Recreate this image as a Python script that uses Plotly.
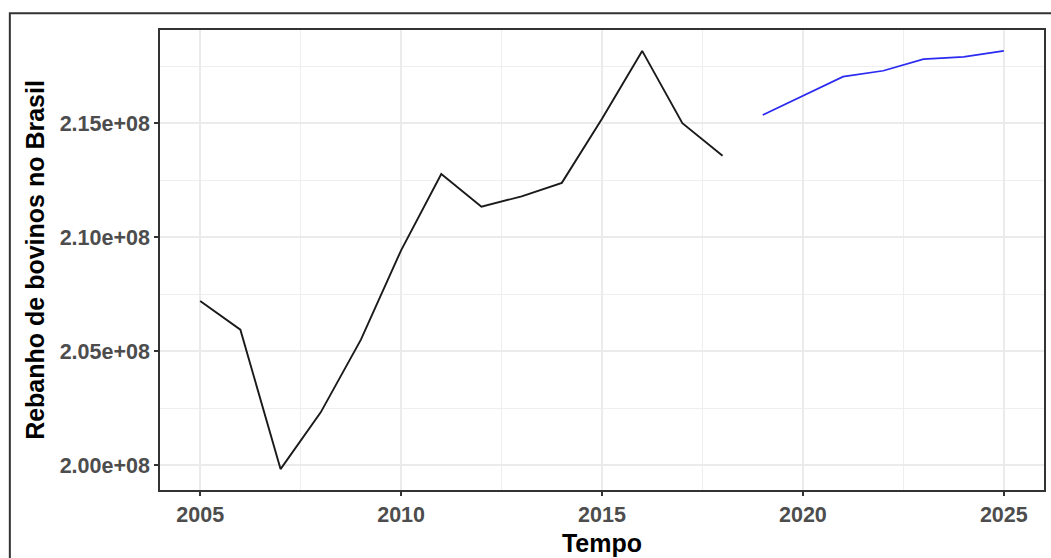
import plotly.graph_objects as go

# Rebanho bovino observado (2005-2018) e projeção (2019-2025)
anos_obs = [2005, 2006, 2007, 2008, 2009, 2010, 2011, 2012, 2013, 2014, 2015, 2016, 2017, 2018]
rebanho_obs = [207.21e6, 205.95e6, 199.83e6, 202.32e6, 205.51e6, 209.43e6, 212.78e6,
               211.34e6, 211.80e6, 212.39e6, 215.20e6, 218.18e6, 215.01e6, 213.58e6]

anos_prev = [2019, 2020, 2021, 2022, 2023, 2024, 2025]
rebanho_prev = [215.37e6, 216.21e6, 217.05e6, 217.31e6, 217.82e6, 217.92e6, 218.18e6]

x_ticks = [2005, 2010, 2015, 2020, 2025]
y_ticks = [2.00e8, 2.05e8, 2.10e8, 2.15e8]
y_tick_labels = ["2.00e+08", "2.05e+08", "2.10e+08", "2.15e+08"]

# faixa do eixo com 5% de expansão, como no ggplot
todos = rebanho_obs + rebanho_prev
ymin, ymax = min(todos), max(todos)
pad = 0.05 * (ymax - ymin)
anos = anos_obs + anos_prev
xpad = 0.05 * (max(anos) - min(anos))

W, H = 1051, 558
L, R, T, B = 160, 5, 30, 66
pw, ph = W - L - R, H - T - B

fig = go.Figure()
fig.add_trace(go.Scatter(x=anos_obs, y=rebanho_obs, mode="lines",
                         line=dict(color="#1a1a1a", width=1.9), showlegend=False))
fig.add_trace(go.Scatter(x=anos_prev, y=rebanho_prev, mode="lines",
                         line=dict(color="#2a2af0", width=1.7), showlegend=False))

tick_font = dict(family="Liberation Sans, Arial, sans-serif", size=21.5, color="#4D4D4D")
title_font = dict(family="Liberation Sans, Arial, sans-serif", size=25, color="black")

axis_common = dict(
    showgrid=True, gridcolor="#EBEBEB", gridwidth=1.6,
    showline=True, linecolor="#333333", linewidth=1.5, mirror=True,
    ticks="outside", ticklen=4, tickwidth=1.5, tickcolor="#333333",
    tickfont=tick_font, zeroline=False,
)

fig.update_xaxes(
    **axis_common,
    range=[min(anos) - xpad, max(anos) + xpad],
    tickvals=x_ticks,
    ticktext=["<b>%d</b>" % v for v in x_ticks],
    minor=dict(showgrid=True, gridcolor="#EEEEEE", gridwidth=1.1,
               tickvals=[2002.5, 2007.5, 2012.5, 2017.5, 2022.5], ticks=""),
    title=dict(text="<b>Tempo</b>", font=title_font, standoff=9),
)
fig.update_yaxes(
    **axis_common,
    range=[ymin - pad, ymax + pad],
    tickvals=y_ticks,
    ticktext=["<b>%s</b>" % t for t in y_tick_labels],
    minor=dict(showgrid=True, gridcolor="#EEEEEE", gridwidth=1.1,
               tickvals=[1.975e8, 2.025e8, 2.075e8, 2.125e8, 2.175e8], ticks=""),
    title=dict(text="<b>Rebanho de bovinos no Brasil</b>", font=title_font, standoff=8),
)

# moldura externa da figura
fig.add_shape(type="rect", xref="paper", yref="paper",
              x0=(9.5 - L) / pw, x1=(1056 - L) / pw,
              y0=(T + ph - 570) / ph, y1=1 + (T - 13.3) / ph,
              line=dict(color="#333333", width=2), layer="above")

fig.update_layout(
    width=W, height=H,
    margin=dict(l=L, r=R, t=T, b=B),
    paper_bgcolor="white", plot_bgcolor="white",
    showlegend=False,
)

fig.write_html("out.html")
